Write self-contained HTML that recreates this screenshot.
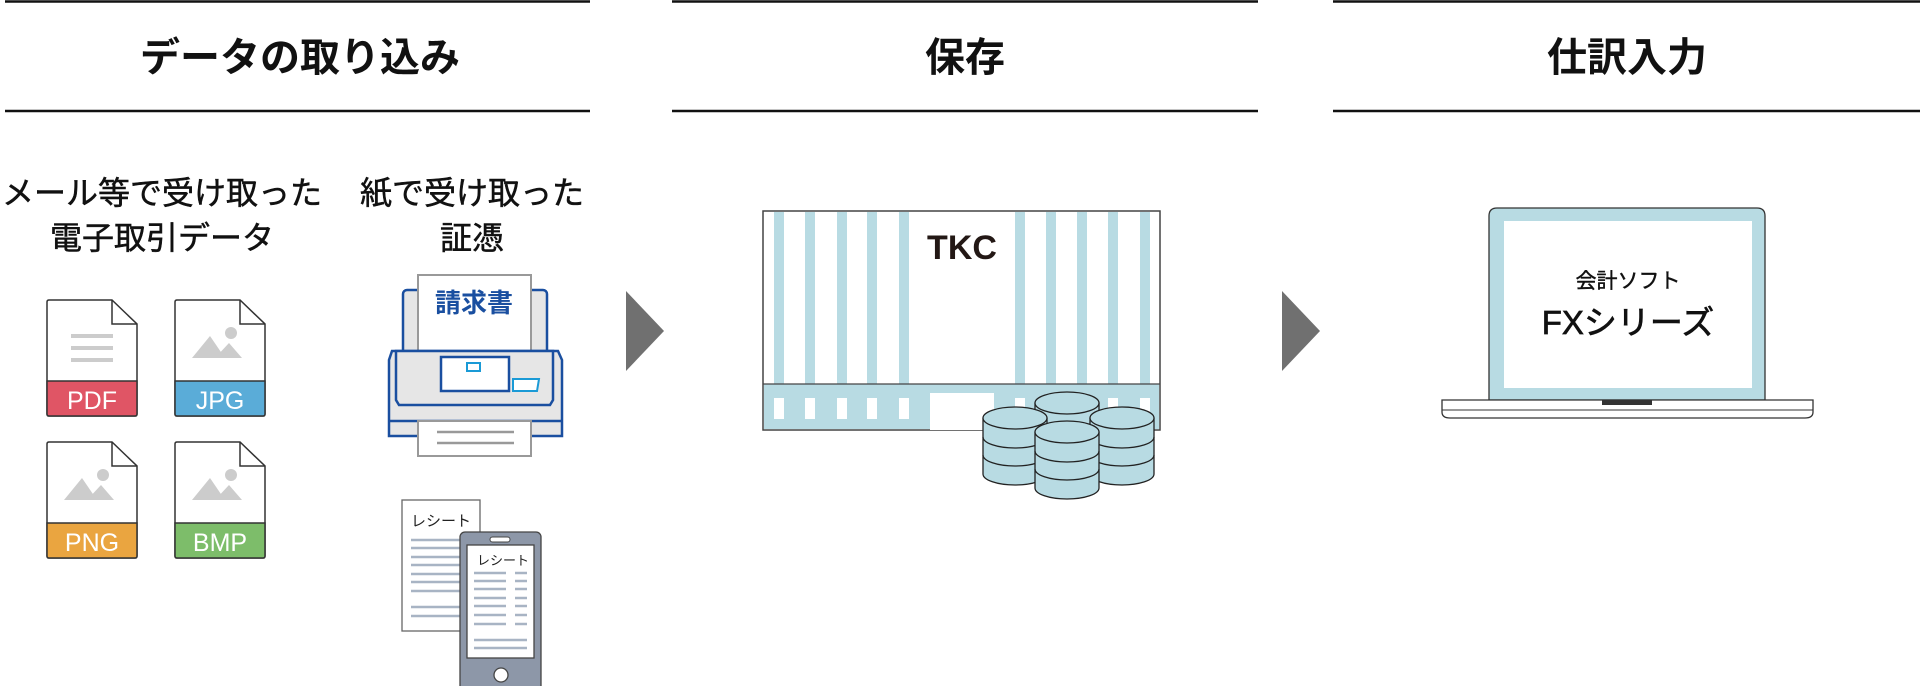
<!DOCTYPE html>
<html><head><meta charset="utf-8"><style>
html,body{margin:0;padding:0;background:#fff;}
svg{display:block;}
text{font-family:"Liberation Sans","Noto Sans CJK JP",sans-serif;}
</style></head><body>
<svg width="1920" height="686" viewBox="0 0 1920 686" xmlns="http://www.w3.org/2000/svg">
<g stroke="#111" stroke-width="2.5">
<line x1="5" y1="1.5" x2="590" y2="1.5"/><line x1="672" y1="1.5" x2="1258" y2="1.5"/><line x1="1333" y1="1.5" x2="1920" y2="1.5"/>
<line x1="5" y1="111" x2="590" y2="111"/><line x1="672" y1="111" x2="1258" y2="111"/><line x1="1333" y1="111" x2="1920" y2="111"/>
</g>
<g font-size="40" font-weight="bold" fill="#111" text-anchor="middle">
<text x="300" y="71">データの取り込み</text>
<text x="965" y="71">保存</text>
<text x="1627" y="71">仕訳入力</text>
</g>
<g font-size="32" fill="#111" text-anchor="middle" stroke="#111" stroke-width="0.5">
<text x="162" y="204">メール等で受け取った</text>
<text x="162" y="249">電子取引データ</text>
<text x="472" y="204">紙で受け取った</text>
<text x="472" y="249">証憑</text>
</g>
<defs>
<g id="file">
<path d="M0,2 Q0,0 2,0 H65 L90,24 V114 Q90,116 88,116 H2 Q0,116 0,114 Z" fill="#fff" stroke="#333" stroke-width="1.5"/>
<path d="M65,0 V24 H90" fill="none" stroke="#333" stroke-width="1.5"/>
</g>
<g id="img">
<circle cx="56" cy="33" r="6" fill="#ccc"/>
<path d="M17,58 L35,36 L50,58 Z M40,58 L54,43 L67,58 Z" fill="#ccc"/>
</g>
</defs>
<g transform="translate(47,300)"><use href="#file"/>
<rect x="24" y="34" width="42" height="4" fill="#ccc"/><rect x="24" y="46" width="42" height="4" fill="#ccc"/><rect x="24" y="58" width="42" height="4" fill="#ccc"/>
<path d="M0,81 H90 V114 Q90,116 88,116 H2 Q0,116 0,114 Z" fill="#e05565" stroke="#333" stroke-width="1.5"/>
<text x="45" y="109" font-size="25" fill="#fff" text-anchor="middle">PDF</text></g>
<g transform="translate(175,300)"><use href="#file"/><use href="#img"/>
<path d="M0,81 H90 V114 Q90,116 88,116 H2 Q0,116 0,114 Z" fill="#5aacd8" stroke="#333" stroke-width="1.5"/>
<text x="45" y="109" font-size="25" fill="#fff" text-anchor="middle">JPG</text></g>
<g transform="translate(47,442)"><use href="#file"/><use href="#img"/>
<path d="M0,81 H90 V114 Q90,116 88,116 H2 Q0,116 0,114 Z" fill="#eaa540" stroke="#333" stroke-width="1.5"/>
<text x="45" y="109" font-size="25" fill="#fff" text-anchor="middle">PNG</text></g>
<g transform="translate(175,442)"><use href="#file"/><use href="#img"/>
<path d="M0,81 H90 V114 Q90,116 88,116 H2 Q0,116 0,114 Z" fill="#7dbd6a" stroke="#333" stroke-width="1.5"/>
<text x="45" y="109" font-size="25" fill="#fff" text-anchor="middle">BMP</text></g>
<rect x="403" y="290" width="144" height="64" rx="4" fill="#e6e6e6" stroke="#1a4fa0" stroke-width="2.5"/>
<rect x="418" y="275" width="113" height="80" fill="#fff" stroke="#999" stroke-width="2"/>
<text x="474" y="312" font-size="26" font-weight="bold" fill="#1a4fa0" text-anchor="middle">請求書</text>
<path d="M392,351 H558 L562,360 V436 H389 V360 Z" fill="#e6e6e6" stroke="#1a4fa0" stroke-width="2.5"/>
<path d="M396,351 H553 L553,400 L550,405 H399 L396,400 Z" fill="#e6e6e6" stroke="#1a4fa0" stroke-width="2.5"/>
<line x1="389" y1="421" x2="562" y2="421" stroke="#1a4fa0" stroke-width="2.5"/>
<rect x="441" y="357" width="68" height="34" fill="#fff" stroke="#1a4fa0" stroke-width="2.5"/>
<rect x="467" y="363" width="13" height="8" fill="#fff" stroke="#1a9ad6" stroke-width="2"/>
<path d="M513,379 H539 L537,391 H513 Z" fill="#fff" stroke="#1a9ad6" stroke-width="2"/>
<rect x="418" y="421" width="113" height="35" fill="#fff" stroke="#999" stroke-width="2"/>
<line x1="437" y1="432" x2="514" y2="432" stroke="#999" stroke-width="2.5"/>
<line x1="437" y1="443" x2="514" y2="443" stroke="#999" stroke-width="2.5"/>
<rect x="402" y="500" width="78" height="131" fill="#fff" stroke="#666" stroke-width="1.3"/>
<text x="411" y="526" font-size="15" fill="#222">レシート</text>
<g stroke="#a8b4c4" stroke-width="2.5">
<line x1="411" y1="540" x2="460" y2="540"/><line x1="411" y1="548" x2="460" y2="548"/><line x1="411" y1="557" x2="460" y2="557"/><line x1="411" y1="565" x2="460" y2="565"/><line x1="411" y1="574" x2="460" y2="574"/><line x1="411" y1="582" x2="460" y2="582"/><line x1="411" y1="591" x2="460" y2="591"/>
<line x1="411" y1="607" x2="460" y2="607"/><line x1="411" y1="616" x2="460" y2="616"/>
</g>
<rect x="460" y="532" width="81" height="160" rx="5" fill="#8d97a8" stroke="#444" stroke-width="1.3"/>
<rect x="490" y="537" width="20" height="5" rx="2.5" fill="#fff" stroke="#444" stroke-width="1"/>
<rect x="467" y="545" width="67" height="113" fill="#fff" stroke="#444" stroke-width="1.3"/>
<text x="477" y="565" font-size="13" fill="#222">レシート</text>
<g stroke="#a8b4c4" stroke-width="2.5">
<line x1="474" y1="573" x2="506" y2="573"/><line x1="515" y1="573" x2="527" y2="573"/>
<line x1="474" y1="581" x2="506" y2="581"/><line x1="515" y1="581" x2="527" y2="581"/>
<line x1="474" y1="589" x2="506" y2="589"/><line x1="515" y1="589" x2="527" y2="589"/>
<line x1="474" y1="598" x2="506" y2="598"/><line x1="515" y1="598" x2="527" y2="598"/>
<line x1="474" y1="606" x2="506" y2="606"/><line x1="515" y1="606" x2="527" y2="606"/>
<line x1="474" y1="615" x2="506" y2="615"/><line x1="515" y1="615" x2="527" y2="615"/>
<line x1="474" y1="624" x2="506" y2="624"/><line x1="515" y1="624" x2="527" y2="624"/>
<line x1="474" y1="640" x2="527" y2="640"/><line x1="474" y1="648" x2="527" y2="648"/>
</g>
<circle cx="501" cy="675" r="7" fill="#fff" stroke="#444" stroke-width="1.3"/>
<path d="M626,291 L664,331 L626,371 Z" fill="#707070"/>
<path d="M1282,291 L1320,331 L1282,371 Z" fill="#707070"/>
<rect x="763" y="211" width="397" height="219" fill="#fff" stroke="#444" stroke-width="1.5"/>
<g fill="#b8dbe3">
<rect x="774" y="212" width="10" height="172"/><rect x="805" y="212" width="10" height="172"/><rect x="837" y="212" width="10" height="172"/><rect x="867" y="212" width="10" height="172"/><rect x="899" y="212" width="10" height="172"/>
<rect x="1015" y="212" width="10" height="172"/><rect x="1046" y="212" width="10" height="172"/><rect x="1077" y="212" width="10" height="172"/><rect x="1108" y="212" width="10" height="172"/><rect x="1140" y="212" width="10" height="172"/>
<rect x="764" y="384" width="395" height="45"/>
</g>
<line x1="763" y1="384" x2="1160" y2="384" stroke="#444" stroke-width="1.3"/>
<g fill="#fff">
<rect x="774" y="398" width="10" height="21"/><rect x="805" y="398" width="10" height="21"/><rect x="837" y="398" width="10" height="21"/><rect x="867" y="398" width="10" height="21"/><rect x="899" y="398" width="10" height="21"/>
<rect x="1015" y="398" width="10" height="21"/><rect x="1108" y="398" width="10" height="21"/><rect x="1140" y="398" width="10" height="21"/>
<rect x="930" y="393" width="64" height="37"/>
</g>
<text x="962" y="259" font-size="34" font-weight="bold" fill="#231815" text-anchor="middle">TKC</text>
<defs>
<g id="cyl">
<path d="M-32,0 V56 A32,11 0 0 0 32,56 V0" fill="#b8dbe3" stroke="#222" stroke-width="1.3"/>
<path d="M-32,19 A32,11 0 0 0 32,19 M-32,37 A32,11 0 0 0 32,37" fill="none" stroke="#222" stroke-width="1.3"/>
<ellipse cx="0" cy="0" rx="32" ry="11" fill="#b8dbe3" stroke="#222" stroke-width="1.3"/>
</g>
</defs>
<use href="#cyl" x="1067" y="403"/>
<use href="#cyl" x="1015" y="418"/>
<use href="#cyl" x="1122" y="418"/>
<use href="#cyl" x="1067" y="432"/>
<path d="M1489,400 V216 Q1489,208 1497,208 H1757 Q1765,208 1765,216 V400 Z" fill="#b8dbe3" stroke="#333" stroke-width="1.3"/>
<rect x="1504" y="221" width="248" height="167" fill="#fff"/>
<text x="1628" y="288" font-size="21" fill="#111" text-anchor="middle" stroke="#111" stroke-width="0.4">会計ソフト</text>
<text x="1628" y="334" font-size="33" fill="#111" text-anchor="middle" stroke="#111" stroke-width="0.7">FXシリーズ</text>
<path d="M1442,400 H1813 V412 Q1813,418 1805,418 H1450 Q1442,418 1442,412 Z" fill="#fff" stroke="#333" stroke-width="1.3"/>
<line x1="1442" y1="410" x2="1813" y2="410" stroke="#333" stroke-width="1"/>
<rect x="1602" y="400" width="50" height="5" fill="#333"/>
</svg>
</body></html>
